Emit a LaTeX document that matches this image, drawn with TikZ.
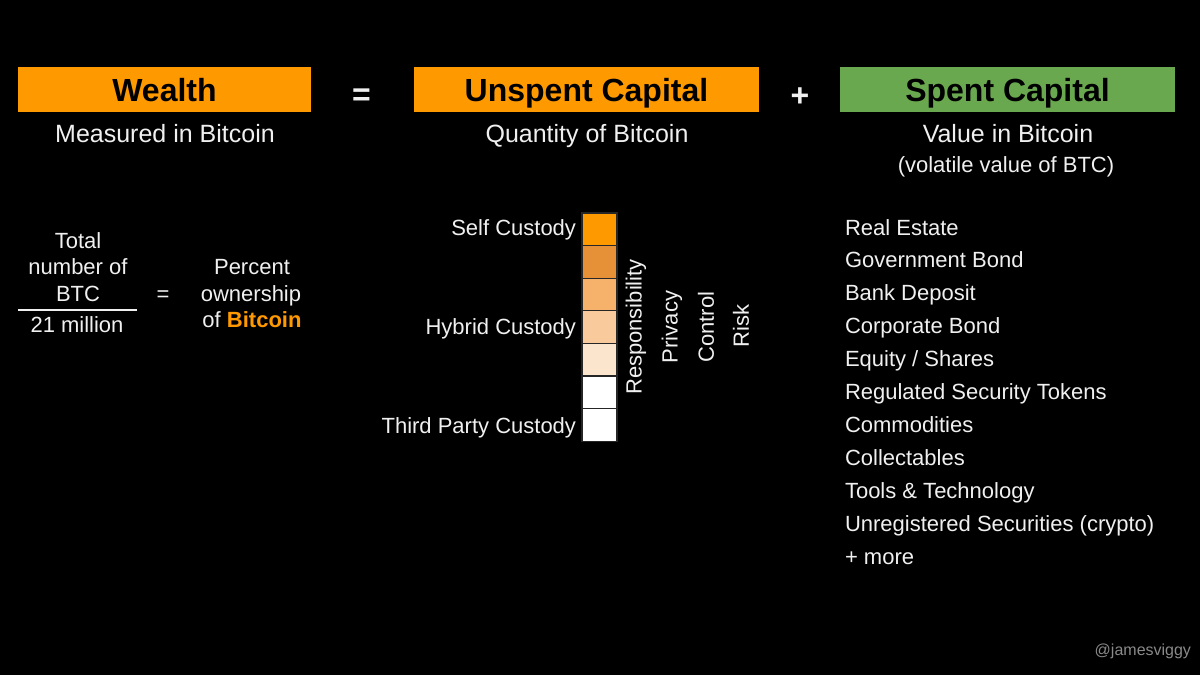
\documentclass[tikz,border=0pt]{standalone}
\usepackage{fontspec}
\setmainfont{Liberation Sans}
\definecolor{orangeC}{HTML}{FF9900}
\definecolor{greenC}{HTML}{6AA84F}
\definecolor{txt}{HTML}{F0F0F0}
\definecolor{cellB}{HTML}{E69138}
\definecolor{cellC}{HTML}{F6B26B}
\definecolor{cellD}{HTML}{F9CB9C}
\definecolor{cellE}{HTML}{FCE5CD}
\definecolor{wm}{HTML}{8A8A8A}
\begin{document}
\begin{tikzpicture}[x=0.5pt,y=-0.5pt,
  every node/.style={inner sep=0pt, outer sep=0pt, text=txt},
  titlebox/.style={font=\fontsize{16}{19}\selectfont\bfseries, text=black,
    text height=11.5pt, text depth=0pt, minimum height=22.5pt},
  optext/.style={font=\fontsize{16}{19}\selectfont\bfseries, anchor=base},
  subtext/.style={font=\fontsize{12.5}{15}\selectfont, anchor=base},
  bodytext/.style={font=\fontsize{11}{13}\selectfont, anchor=base},
  listitem/.style={bodytext, anchor=base west},
  custlabel/.style={bodytext, anchor=base east},
  vlabel/.style={font=\fontsize{11}{13}\selectfont, rotate=90, anchor=center},
  cell/.style={draw=black!85, line width=0.6pt, minimum width=17.5pt, minimum height=16.3pt},
  fracline/.style={draw=txt, line width=0.9pt}
]
\fill[black] (0,0) rectangle (1200,675);
\useasboundingbox (0,0) rectangle (1200,675);

% Title boxes
\node[titlebox, fill=orangeC, minimum width=146.5pt] (wealth) at (164.5,89.5) {Wealth};
\node[titlebox, fill=orangeC, minimum width=172.5pt] (unspent) at (586.5,89.5) {Unspent Capital};
\node[titlebox, fill=greenC, minimum width=167.5pt] (spent) at (1007.5,89.5) {Spent Capital};
\node[optext] (eq1) at (361.5,105) {=};
\node[optext] (plus) at (800,106) {+};

% Subtitles
\node[subtext] (sub1) at (165,142) {Measured in Bitcoin};
\node[subtext] (sub2) at (587,142) {Quantity of Bitcoin};
\node[subtext] (sub3) at (1008,142) {Value in Bitcoin};
\node[bodytext] (sub3b) at (1006,172) {(volatile value of BTC)};

% Fraction
\node[bodytext] (tot1) at (78,248) {Total};
\node[bodytext] (tot2) at (78,274) {number of};
\node[bodytext] (tot3) at (78,301) {BTC};
\coordinate (fl) at (18,310);
\coordinate (fr) at (137,310);
\draw[fracline] (fl) -- (fr);
\node[bodytext] (den) at (77,332) {21 million};
\node[bodytext] (eq2) at (163,301.5) {=};
\node[bodytext] (pc1) at (252,274) {Percent};
\node[bodytext] (pc2) at (251,301) {ownership};
\node[bodytext] (pc3) at (252,327) {of \textcolor{orangeC}{\textbf{Bitcoin}}};

% Custody scale
\foreach \i/\c in {1/orangeC,2/cellB,3/cellC,4/cellD,5/cellE,6/white,7/white}
  \node[cell, fill=\c] (cell\i) at (599.5,{213+32.6*(\i-0.5)}) {};
\node[custlabel] (self) at (576,235) {Self Custody};
\node[custlabel] (hybrid) at (576,334) {Hybrid Custody};
\node[custlabel] (third) at (576,433) {Third Party Custody};
\node[vlabel] (resp) at (636,327) {Responsibility};
\node[vlabel] (priv) at (672,327) {Privacy};
\node[vlabel] (ctrl) at (706,327) {Control};
\node[vlabel] (risk) at (741,326) {Risk};

% Spent capital list
\foreach \t [count=\k from 0] in {Real Estate,Government Bond,Bank Deposit,Corporate Bond,Equity / Shares,Regulated Security Tokens,Commodities,Collectables,Tools \& Technology,Unregistered Securities (crypto),+ more}
  \node[listitem] (item\k) at (845,{235+32.9*\k}) {\t};

% Watermark
\node[font=\fontsize{8}{10}\selectfont, text=wm, anchor=base east] (wmark) at (1191,655) {@jamesviggy};
\end{tikzpicture}
\end{document}
